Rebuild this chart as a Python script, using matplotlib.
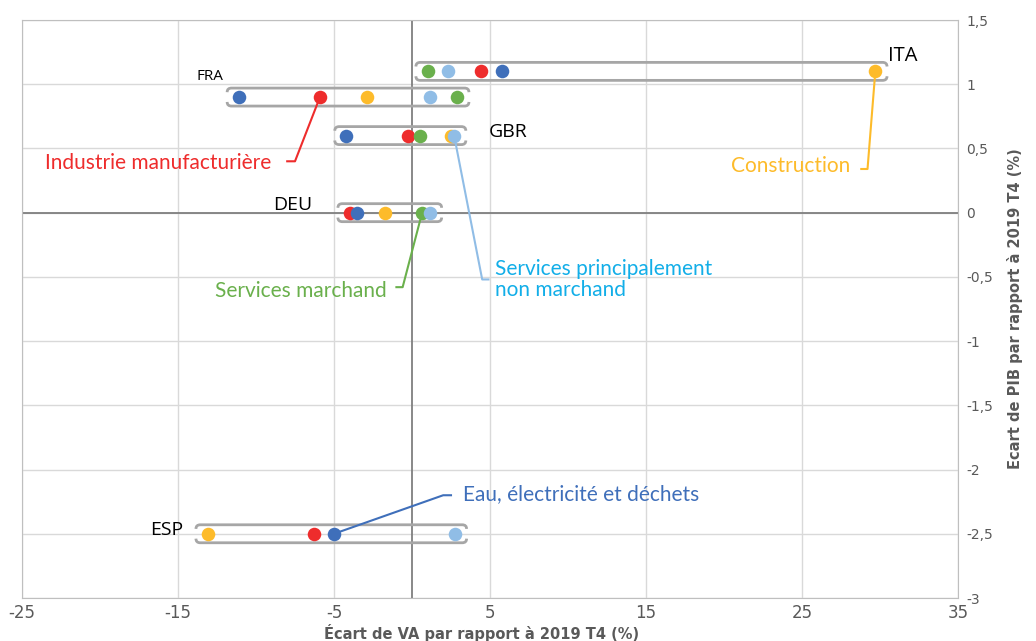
import matplotlib.pyplot as plt
import numpy as np
from matplotlib.path import Path
from matplotlib.patches import PathPatch
from matplotlib.ticker import FuncFormatter

# Données : écart de VA par secteur (axe x) et écart de PIB par pays (axe y)
countries = ['ITA', 'FRA', 'GBR', 'DEU', 'ESP']
gdp_gap = [1.1, 0.9, 0.6, 0.0, -2.5]
sectors = ['Construction', 'Industrie manufacturière', 'Eau, électricité et déchets',
           'Services marchand', 'Services principalement non marchand']
va_construction = [29.7, -2.9, 2.5, -1.7, -13.1]
va_industrie = [4.4, -5.9, -0.25, -4.0, -6.3]
va_eau = [5.8, -11.1, -4.2, -3.5, -5.0]
va_marchand = [1.0, 2.9, 0.5, 0.65, np.nan]
va_non_marchand = [2.3, 1.15, 2.7, 1.15, 2.75]

colors = {
    'Construction': '#fdbb2a',
    'Industrie manufacturière': '#ee2c2c',
    'Eau, électricité et déchets': '#3f6fba',
    'Services marchand': '#6ab04c',
    'Services principalement non marchand': '#90bde6',
}
text_colors = dict(colors)
text_colors['Services principalement non marchand'] = '#12aee8'

series = dict(zip(sectors, [va_construction, va_industrie, va_eau, va_marchand, va_non_marchand]))

plt.rcParams['font.family'] = ['Lato', 'DejaVu Sans']

fig = plt.figure(figsize=(10.36, 6.41), dpi=100)
ax = fig.add_axes([22 / 1036, 43 / 641, 936 / 1036, 578 / 641])
ax.set_xlim(-25, 35)
ax.set_ylim(-3, 1.5)

ax.set_xticks(np.arange(-25, 36, 10))
ax.set_yticks(np.arange(-3, 1.51, 0.5))
ax.grid(True, color='#d9d9d9', lw=1)
ax.set_axisbelow(True)
ax.axhline(0, color='#7f7f7f', lw=1.3, zorder=1)
ax.axvline(0, color='#7f7f7f', lw=1.3, zorder=1)
for s in ax.spines.values():
    s.set_color('#bfbfbf')

ax.yaxis.tick_right()
ax.yaxis.set_label_position('right')
ax.tick_params(length=0, colors='#595959')
ax.tick_params(axis='y', pad=6)
ax.tick_params(axis='x', pad=4)
fmt = lambda v, p: ('%g' % v).replace('.', ',')
ax.yaxis.set_major_formatter(FuncFormatter(fmt))
ax.xaxis.set_major_formatter(FuncFormatter(fmt))
for lab in ax.get_xticklabels():
    lab.set_family(['Liberation Sans Narrow', 'DejaVu Sans'])
    lab.set_fontsize(12)
for lab in ax.get_yticklabels():
    lab.set_family(['DejaVu Sans'])
    lab.set_fontsize(10)

fig.text(482 / 1036, 1 - 633 / 641, 'Écart de VA par rapport à 2019 T4 (%)', color='#595959',
         fontsize=10.5, fontweight='bold', ha='center', va='center',
         family=['Liberation Sans Narrow', 'DejaVu Sans'])
ax.set_ylabel('Ecart de PIB par rapport à 2019 T4 (%)', color='#595959', fontsize=10.5,
              fontweight='bold', labelpad=10, family=['Liberation Sans Narrow', 'DejaVu Sans'])

# crochets gris autour de chaque pays
pad_x, half_h, cx, cy = 0.75, 0.07, 0.28, 0.032
all_vals = np.array([va_construction, va_industrie, va_eau, va_marchand, va_non_marchand])
for i, y in enumerate(gdp_gap):
    vals = all_vals[:, i]
    x0 = np.nanmin(vals) - pad_x
    x1 = np.nanmax(vals) + pad_x
    for yy, sgn in [(y + half_h, 1), (y - half_h, -1)]:
        verts = [(x0, yy - sgn * cy), (x0, yy), (x0 + cx, yy),
                 (x1 - cx, yy),
                 (x1, yy), (x1, yy - sgn * cy)]
        codes = [Path.MOVETO, Path.CURVE3, Path.CURVE3, Path.LINETO, Path.CURVE3, Path.CURVE3]
        ax.add_patch(PathPatch(Path(verts, codes), fill=False, ec='#a6a6a6', lw=2, zorder=2))

# points
for sector in sectors:
    ax.scatter(series[sector], gdp_gap, s=95, color=colors[sector], zorder=3, lw=0)

# noms des pays
country_pos = {'ITA': (30.5, 1.22, 14.5), 'FRA': (-13.8, 1.06, 11), 'GBR': (4.9, 0.63, 14),
               'DEU': (-8.9, 0.06, 14), 'ESP': (-16.8, -2.47, 14)}
for c in countries:
    x, y, fs = country_pos[c]
    ax.text(x, y, c, fontsize=fs, color='black', ha='left', va='center',
            family=['Open Sans', 'DejaVu Sans'])

# étiquettes des secteurs avec traits de rappel
ci = {c: i for i, c in enumerate(countries)}


def callout(sector, country, text_xy, elbow, end, ha='right'):
    px = series[sector][ci[country]]
    py = gdp_gap[ci[country]]
    ax.plot([px, elbow[0], end[0]], [py, elbow[1], end[1]], color=colors[sector], lw=1.5, zorder=2.5)
    ax.text(text_xy[0], text_xy[1], sector.replace('principalement ', 'principalement\n'),
            color=text_colors[sector], fontsize=15, ha=ha, va='center', linespacing=1.1)


callout('Industrie manufacturière', 'FRA', (-9.0, 0.39), (-7.5, 0.4), (-8.0, 0.4))
callout('Construction', 'ITA', (28.1, 0.36), (29.2, 0.34), (28.8, 0.34))
callout('Services marchand', 'DEU', (-1.65, -0.61), (-0.6, -0.58), (-1.0, -0.58))
callout('Services principalement non marchand', 'GBR', (5.3, -0.52), (4.5, -0.52), (4.9, -0.52),
        ha='left')
callout('Eau, électricité et déchets', 'ESP', (3.3, -2.19), (2.0, -2.2), (2.5, -2.2), ha='left')

fig.savefig('out.png', dpi=100)
